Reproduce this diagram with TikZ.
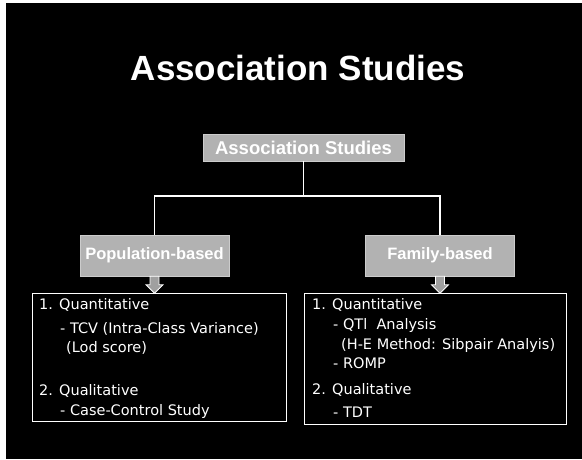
\documentclass[tikz,border=0pt]{standalone}
\usepackage{fontspec}
\setmainfont{DejaVu Sans}
\newfontfamily\titlefont{Liberation Sans}
\newfontfamily\listfont{DejaVu Sans}
\usetikzlibrary{calc}
\definecolor{boxgray}{RGB}{178,178,178}
\definecolor{arrowgray}{RGB}{160,160,160}
\tikzset{
  titletext/.style={text=white, font=\titlefont\bfseries\fontsize{35}{40}\selectfont, anchor=base, inner sep=0},
  graybox/.style={draw=white!80!black, line width=0.6, fill=boxgray, text=white,
    font=\titlefont\bfseries, inner sep=0},
  conn/.style={draw=white, line width=1.4},
  listbox/.style={draw=white, line width=1},
  itemtext/.style={text=white, font=\listfont\fontsize{14.5}{17}\selectfont, anchor=base west, inner sep=0},
  barrow/.style={draw=white, fill=arrowgray, line width=0.8, line join=miter},
}
\begin{document}
\begin{tikzpicture}[x=1pt,y=-1pt]
\useasboundingbox (0,0) rectangle (582,459);
\fill[white] (0,0) rectangle (582,459);
\fill[black] (6,3) rectangle (582,459);

% title
\node[titletext] (title) at (298,80) {Association Studies};

% gray boxes
\node[graybox, minimum width=201, minimum height=27, font=\titlefont\bfseries\fontsize{18.5}{20}\selectfont] (root) at (303.5,147.5) {Association Studies};
\node[graybox, minimum width=149, minimum height=41, font=\titlefont\bfseries\fontsize{16.5}{18}\selectfont] (pop) at (154.5,255.5) {Population-based};
\node[graybox, minimum width=149, minimum height=41, font=\titlefont\bfseries\fontsize{16.5}{18}\selectfont] (fam) at (440,255.5) {Family-based};

% tree connectors
\coordinate (junc) at (304,196);
\draw[conn] (root.south) -- (root.south |- junc) -| (pop.north);
\draw[conn] (root.south |- junc) -| (fam.north);

% list boxes
\node[listbox, minimum width=254, minimum height=128, anchor=north west, inner sep=0] (lbox) at (32,293) {};
\node[listbox, minimum width=262, minimum height=131, anchor=north west, inner sep=0] (rbox) at (304,293) {};

% block arrows
\coordinate (la) at (pop.south);
\coordinate (ra) at (fam.south);
\draw[barrow, shift={(la)}] (-4.5,0) -- (4.5,0) -- (4.5,8.5) -- (8.5,8.5) -- (0,17) -- (-8.5,8.5) -- (-4.5,8.5) -- cycle;
\draw[barrow, shift={(ra)}] (-4.5,0) -- (4.5,0) -- (4.5,8.5) -- (8.5,8.5) -- (0,17) -- (-8.5,8.5) -- (-4.5,8.5) -- cycle;

% left list
\node[itemtext] (l1) at (39,309) {1. Quantitative};
\node[itemtext] (l2) at (60,333) {- TCV (Intra-Class Variance)};
\node[itemtext] (l3) at (66,352) {(Lod score)};
\node[itemtext] (l4) at (39,395) {2. Qualitative};
\node[itemtext] (l5) at (60,415) {- Case-Control Study};

% right list
\node[itemtext] (r1) at (312,309) {1. Quantitative};
\node[itemtext] (r2) at (333,329) {- QTl\ \ Analysis};
\node[itemtext] (r3) at (341,349) {(H-E Method: Sibpair Analyis)};
\node[itemtext] (r4) at (333,368) {- ROMP};
\node[itemtext] (r5) at (312,394) {2. Qualitative};
\node[itemtext] (r6) at (333,417) {- TDT};
\end{tikzpicture}
\end{document}
